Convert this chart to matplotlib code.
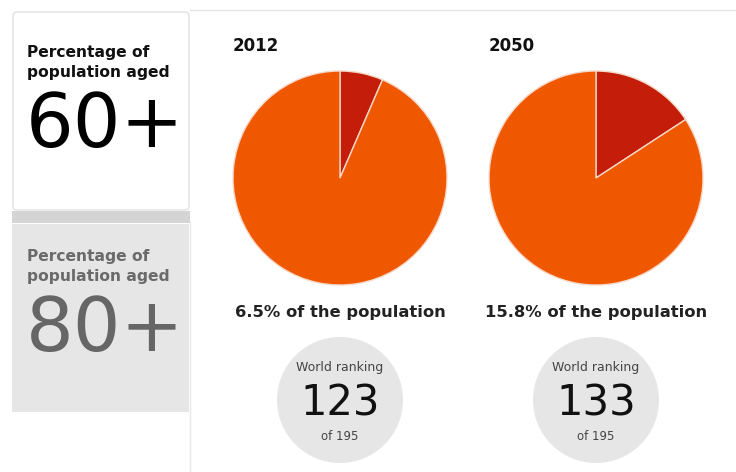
import matplotlib.pyplot as plt
from matplotlib.patches import FancyBboxPatch, Rectangle, Circle

W, H = 736, 472

years = ["2012", "2050"]
shares = [6.5, 15.8]
captions = ["6.5% of the population", "15.8% of the population"]
ranks = ["123", "133"]
rank_total = "of 195"

red = "#c41e0a"
orange = "#f05800"

fig = plt.figure(figsize=(7.36, 4.72), dpi=100)
ax = fig.add_axes([0, 0, 1, 1])


def Y(y):
    # pixel row (from top) -> data y
    return H - y


# left cards
ax.add_patch(Rectangle((12, Y(223)), 178, 12, facecolor="#d4d4d4", edgecolor="none"))
ax.add_patch(Rectangle((12, Y(412)), 177, 188, facecolor="#e6e6e6", edgecolor="none"))
ax.add_patch(FancyBboxPatch((13, Y(210)), 176, 198, boxstyle="round,pad=0,rounding_size=4",
                            facecolor="white", edgecolor="#e2e2e2", lw=1))
ax.plot([190, 736], [Y(10), Y(10)], color="#e4e4e4", lw=1)
ax.plot([190, 190], [Y(222), 0], color="#e8e8e8", lw=1)

ax.text(27, Y(52), "Percentage of", fontsize=11.2, fontweight="bold", color="#111111", va="center")
ax.text(27, Y(72), "population aged", fontsize=11.2, fontweight="bold", color="#111111", va="center")
ax.text(26, Y(127), "60+", fontsize=54, color="black", va="center")
ax.text(27, Y(256), "Percentage of", fontsize=11.2, fontweight="bold", color="#6a6a6a", va="center")
ax.text(27, Y(276), "population aged", fontsize=11.2, fontweight="bold", color="#6a6a6a", va="center")
ax.text(26, Y(330), "80+", fontsize=54, color="#666666", va="center")

# pies and rankings
centers = [340, 596]
for cx, yr, s, cap, rk in zip(centers, years, shares, captions, ranks):
    ax.pie([s, 100 - s], colors=[red, orange], startangle=90, counterclock=False,
           center=(cx, Y(178)), radius=107, frame=True,
           wedgeprops=dict(edgecolor="#f6d8c8", linewidth=1))
    ax.text(cx - 107, Y(46), yr, fontsize=12, fontweight="bold", color="#111111", va="center")
    ax.text(cx, Y(313), cap, fontsize=11.8, fontweight="bold", color="#222222",
            ha="center", va="center")
    ax.add_patch(Circle((cx, Y(400)), 63, facecolor="#e6e6e6", edgecolor="none"))
    ax.text(cx, Y(368), "World ranking", fontsize=9, color="#444444", ha="center", va="center")
    ax.text(cx, Y(403), rk, fontsize=30, color="#111111", ha="center", va="center")
    ax.text(cx, Y(437), rank_total, fontsize=8.5, color="#444444", ha="center", va="center")

ax.set_xlim(0, W)
ax.set_ylim(0, H)
ax.set_aspect("auto")
ax.axis("off")

fig.savefig("out.png", dpi=100, facecolor="white")
